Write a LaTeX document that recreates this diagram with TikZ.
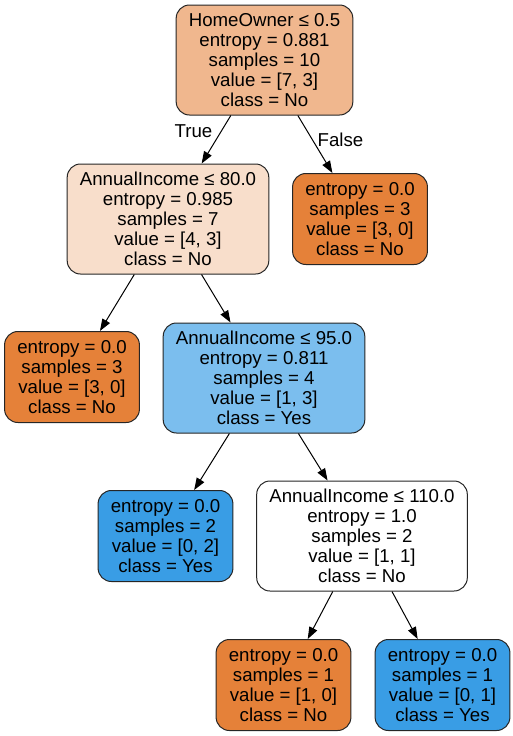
\documentclass[tikz,border=0pt]{standalone}
\usepackage{fontspec}
\setmainfont{Liberation Sans}
\usepackage{tikz}
\usetikzlibrary{arrows.meta,positioning,calc}
\definecolor{noFull}{HTML}{E58139}
\definecolor{yesFull}{HTML}{399DE5}
\definecolor{rootFill}{HTML}{F0B78E}
\definecolor{inc80Fill}{HTML}{F8DECB}
\definecolor{inc95Fill}{HTML}{7BBEEE}
\tikzset{
  dt/box/.style={draw=black!85, line width=0.75pt, rounded corners=10pt, align=center,
    inner xsep=9.5pt, inner ysep=0pt, font=\fontsize{14pt}{15pt}\selectfont},
  dt/split/.style={dt/box, minimum height=82.5pt},
  dt/leaf/.style={dt/box, minimum height=68.25pt, minimum width=100.5pt},
  dt/edge/.style={line width=0.75pt, -{Triangle[length=9pt,width=6.5pt]}},
  dt/lbl/.style={font=\fontsize{14pt}{15pt}\selectfont, inner sep=0pt}
}
\begin{document}
\begin{tikzpicture}[x=0.75pt, y=-0.75pt]
  \useasboundingbox (0,0) rectangle (513,736);

  \node[dt/split, fill=rootFill] (root) at (264.5,60)
    {HomeOwner ≤ 0.5\\entropy = 0.881\\samples = 10\\value = [7, 3]\\class = No};
  \node[dt/split, fill=inc80Fill] (inc80) at (168,219)
    {AnnualIncome ≤ 80.0\\entropy = 0.985\\samples = 7\\value = [4, 3]\\class = No};
  \node[dt/leaf, fill=noFull] (leafR) at (360,219)
    {entropy = 0.0\\samples = 3\\value = [3, 0]\\class = No};
  \node[dt/leaf, fill=noFull] (leafL) at (72,377)
    {entropy = 0.0\\samples = 3\\value = [3, 0]\\class = No};
  \node[dt/split, fill=inc95Fill] (inc95) at (264,378)
    {AnnualIncome ≤ 95.0\\entropy = 0.811\\samples = 4\\value = [1, 3]\\class = Yes};
  \node[dt/leaf, fill=yesFull] (leafY) at (165.5,536)
    {entropy = 0.0\\samples = 2\\value = [0, 2]\\class = Yes};
  \node[dt/split, fill=white] (inc110) at (362,536)
    {AnnualIncome ≤ 110.0\\entropy = 1.0\\samples = 2\\value = [1, 1]\\class = No};
  \node[dt/leaf, fill=noFull] (leafN1) at (283.5,685)
    {entropy = 0.0\\samples = 1\\value = [1, 0]\\class = No};
  \node[dt/leaf, fill=yesFull] (leafY1) at (442.5,685)
    {entropy = 0.0\\samples = 1\\value = [0, 1]\\class = Yes};

  % edges
  \draw[dt/edge] (root) -- (inc80);
  \draw[dt/edge] (root) -- (leafR);
  \draw[dt/edge] (inc80) -- (leafL);
  \draw[dt/edge] (inc80) -- (inc95);
  \draw[dt/edge] (inc95) -- (leafY);
  \draw[dt/edge] (inc95) -- (inc110);
  \draw[dt/edge] (inc110) -- (leafN1);
  \draw[dt/edge] (inc110) -- (leafY1);

  \node[dt/lbl] (lblTrue) at (193.5,131) {True};
  \node[dt/lbl] (lblFalse) at (340.5,140) {False};
\end{tikzpicture}
\end{document}
